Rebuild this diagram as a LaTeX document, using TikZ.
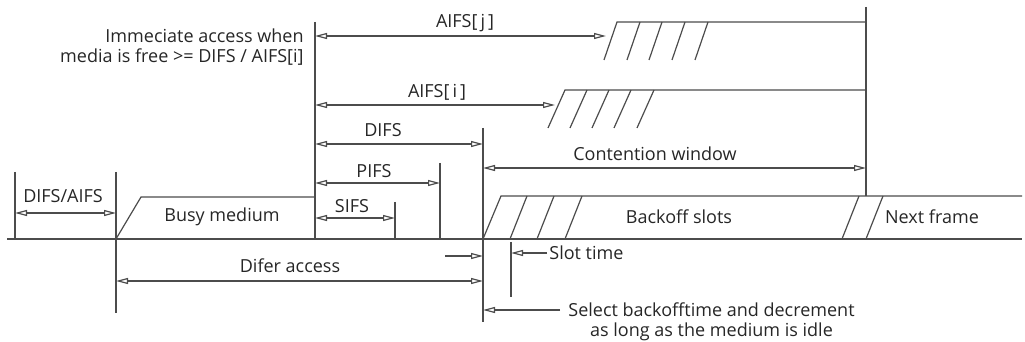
\documentclass[tikz,border=0pt]{standalone}
\usepackage{fontspec}
\setmainfont{Open Sans}
\usetikzlibrary{arrows.meta}

\begin{document}
\begin{tikzpicture}[
    x=0.5pt, y=-0.5pt,
    font=\fontsize{9}{10}\selectfont,
    line/.style={draw=black!70, line width=0.6pt},
    dim/.style={line, {Triangle[open, length=6pt, width=3pt]}-{Triangle[open, length=6pt, width=3pt]}},
    ptr/.style={line, -{Triangle[open, length=6pt, width=3pt]}},
    lbl/.style={text=black!85, inner sep=1pt},
  ]
  \useasboundingbox (0,0) rectangle (1025,342);

  % time axis
  \coordinate (ax0) at (7,239);
  \coordinate (ax1) at (1022,239);
  \draw[line] (ax0) -- (ax1);

  % vertical markers
  \coordinate (m1t) at (15,172);   \coordinate (m1b) at (15,239);
  \coordinate (m2t) at (116,172);  \coordinate (m2b) at (116,313);
  \coordinate (m3t) at (315,22);   \coordinate (m3b) at (315,239);
  \coordinate (m4t) at (395,202);  \coordinate (m4b) at (395,239);
  \coordinate (m5t) at (440,163);  \coordinate (m5b) at (440,239);
  \coordinate (m6t) at (483,128);  \coordinate (m6b) at (483,322);
  \coordinate (m7t) at (866,7);    \coordinate (m7b) at (866,196);
  \coordinate (m8t) at (511,242);  \coordinate (m8b) at (511,297);
  \foreach \m in {1,...,8}
    \draw[line] (m\m t) -- (m\m b);

  % busy medium
  \draw[line] (116,239) -- (141,197) -- (315,197);
  \node[lbl] (busy) at (222,217) {Busy medium};

  % AIFS[j] slots
  \draw[line] (604,60) -- (617,22) -- (866,22);
  \foreach \s in {627,649,672,695}
    \draw[line] (\s,60) -- (\s+13,22);

  % AIFS[i] slots
  \draw[line] (548,128) -- (565,90) -- (866,90);
  \foreach \s in {570,592,614,637}
    \draw[line] (\s,128) -- (\s+17,90);

  % backoff slots and next frame
  \draw[line] (483,239) -- (501,196) -- (1022,196);
  \foreach \s in {510,537,565,842,866}
    \draw[line] (\s,239) -- (\s+17,196);
  \node[lbl] (backoff) at (679,217) {Backoff slots};
  \node[lbl] (next) at (932,217) {Next frame};

  % intervals
  \coordinate (aj0) at (315,36);   \coordinate (aj1) at (606,36);
  \coordinate (ai0) at (315,105);  \coordinate (ai1) at (555,105);
  \coordinate (di0) at (315,144);  \coordinate (di1) at (483,144);
  \coordinate (cw0) at (483,168);  \coordinate (cw1) at (866,168);
  \coordinate (pi0) at (315,183);  \coordinate (pi1) at (440,183);
  \coordinate (si0) at (315,218);  \coordinate (si1) at (395,218);
  \coordinate (da0) at (15,213);   \coordinate (da1) at (116,213);
  \coordinate (df0) at (116,281);  \coordinate (df1) at (483,281);
  \draw[dim] (aj0) -- (aj1);
  \draw[dim] (ai0) -- (ai1);
  \draw[dim] (di0) -- (di1);
  \draw[dim] (cw0) -- (cw1);
  \draw[dim] (pi0) -- (pi1);
  \draw[dim] (si0) -- (si1);
  \draw[dim] (da0) -- (da1);
  \draw[dim] (df0) -- (df1);

  \node[lbl] (aifsj) at (465,23) {AIFS[\,j\,]};
  \node[lbl] (aifsi) at (437,92) {AIFS[\,i\,]};
  \node[lbl] (difs) at (383,130) {DIFS};
  \node[lbl] (cont) at (655,154) {Contention window};
  \node[lbl] (pifs) at (374,171) {PIFS};
  \node[lbl] (sifs) at (352,206) {SIFS};
  \node[lbl] (difsaifs) at (63,196) {DIFS/AIFS};
  \node[lbl] (difer) at (290,266) {Difer access};

  \node[lbl, align=right, anchor=east] (immed) at (306,47)
    {Immeciate access when\\media is free >= DIFS / AIFS[i]};

  % slot time and backoff selection
  \coordinate (st0) at (445,256);
  \draw[ptr] (st0) -- (m6b |- st0);
  \node[lbl, anchor=west] (slot) at (547,253) {Slot time};
  \draw[ptr] (slot.west) -- (m8t |- slot.west);
  \node[lbl, align=center, anchor=north west] (select) at (566,300)
    {Select backofftime and decrement\\as long as the medium is idle};
  \coordinate (se0) at (560,310);
  \draw[ptr] (se0) -- (m6b |- se0);
\end{tikzpicture}
\end{document}
